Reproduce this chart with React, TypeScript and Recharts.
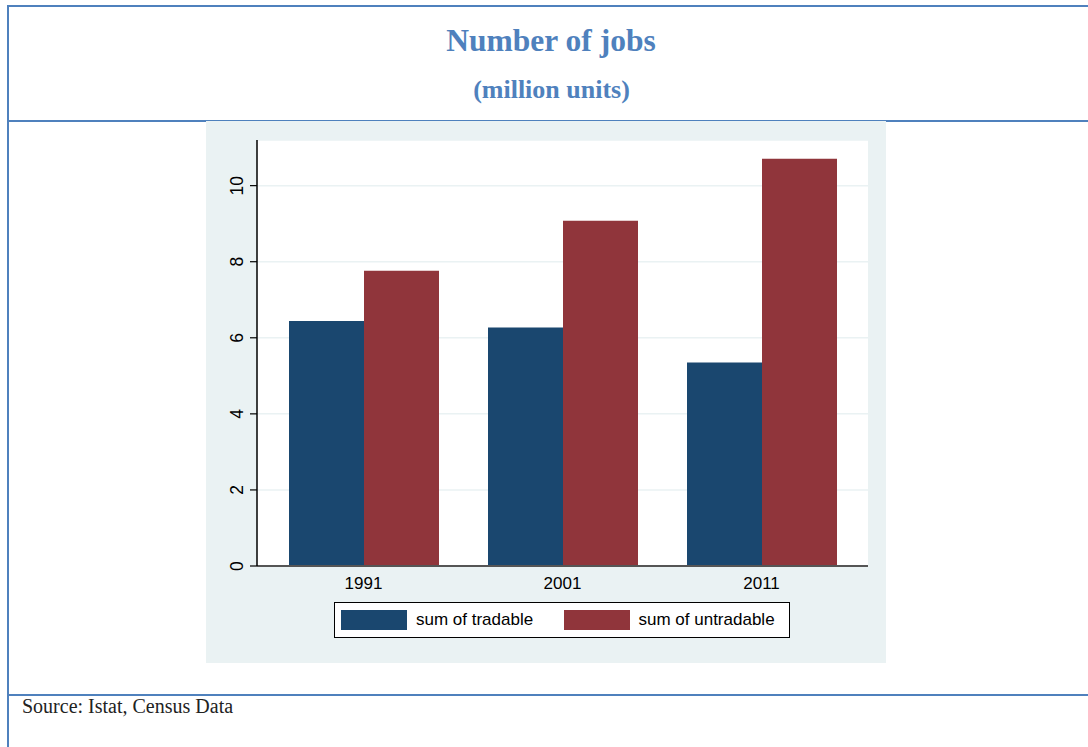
import React from 'react';
import { BarChart, Bar, XAxis, YAxis, CartesianGrid, Legend } from 'recharts';

const years = ['1991', '2001', '2011'];
const tradable = [6.44, 6.27, 5.35];
const untradable = [7.76, 9.08, 10.71];
const yTicks = [0, 2, 4, 6, 8, 10];

const data = years.map((y, i) => ({ year: y, tradable: tradable[i], untradable: untradable[i] }));

const FRAME = '#4F81BD';
const SANS = '"Liberation Sans", Arial, Helvetica, sans-serif';
const SERIF = '"Liberation Serif", "Times New Roman", serif';

const YTick = (props: any) => {
  const { x, y, payload } = props;
  return (
    <text
      x={x}
      y={y}
      transform={`rotate(-90 ${x} ${y})`}
      textAnchor="middle"
      fontSize={17.5}
      fontFamily={SANS}
      fill="#000"
    >
      {payload.value}
    </text>
  );
};

const LegendContent = (props: any) => {
  const payload = props.payload || [];
  return (
    <div
      style={{
        marginLeft: 128,
        width: 456,
        height: 36,
        boxSizing: 'border-box',
        border: '1px solid #000',
        background: '#fff',
        position: 'relative',
        fontFamily: SANS,
        fontSize: 17,
        color: '#000',
      }}
    >
      {payload.map((p: any, i: number) => (
        <div
          key={i}
          style={{
            position: 'absolute',
            left: i === 0 ? 6 : 228.5,
            top: 7,
            display: 'flex',
            alignItems: 'center',
            height: 20,
          }}
        >
          <div style={{ width: 66, height: 20, background: p.color }} />
          <span style={{ marginLeft: 9, lineHeight: '20px', whiteSpace: 'nowrap' }}>{p.value}</span>
        </div>
      ))}
    </div>
  );
};

export default function App() {
  return (
    <div style={{ position: 'absolute', left: 0, top: 0, width: 1088, height: 747, overflow: 'hidden', background: '#fff' }}>
      {/* frame lines */}
      <div style={{ position: 'absolute', left: 7, top: 5, width: 1081, height: 2, background: FRAME }} />
      <div style={{ position: 'absolute', left: 7, top: 5, width: 2, height: 742, background: FRAME }} />
      <div style={{ position: 'absolute', left: 7, top: 119.5, width: 1081, height: 2, background: FRAME }} />
      <div style={{ position: 'absolute', left: 7, top: 694, width: 1081, height: 2, background: FRAME }} />

      {/* titles */}
      <div
        style={{
          position: 'absolute', left: 0, top: 24.5, width: 1102, textAlign: 'center',
          fontFamily: SERIF, fontWeight: 'bold', fontSize: 31.5, lineHeight: '31.5px', color: FRAME,
        }}
      >
        Number of jobs
      </div>
      <div
        style={{
          position: 'absolute', left: 0, top: 76.5, width: 1103, textAlign: 'center',
          fontFamily: SERIF, fontWeight: 'bold', fontSize: 26, lineHeight: '26px', color: FRAME,
        }}
      >
        (million units)
      </div>

      {/* chart */}
      <div style={{ position: 'absolute', left: 206, top: 121, width: 680, height: 542 }}>
        <BarChart
          width={680}
          height={542}
          data={data}
          margin={{ top: 19, right: 18, left: 0, bottom: 25 }}
          barGap={0}
          barSize={75}
          style={{ background: '#EAF2F3' }}
        >
          <CartesianGrid vertical={false} stroke="#EAF2F3" strokeWidth={1.5} fill="#fff" fillOpacity={1} />
          <Bar dataKey="tradable" name="sum of tradable" fill="#1A476F" isAnimationActive={false} />
          <Bar dataKey="untradable" name="sum of untradable" fill="#90353B" isAnimationActive={false} />
          <XAxis
            dataKey="year"
            height={36}
            padding={{ left: 7, right: 7 }}
            tickLine={false}
            axisLine={{ stroke: '#555', strokeWidth: 2 }}
            tickSize={6}
            tickMargin={5}
            tick={{ fontSize: 17, fontFamily: SANS, fill: '#000' }}
          />
          <YAxis
            width={51}
            domain={[0, 11.2]}
            ticks={yTicks}
            allowDataOverflow
            axisLine={{ stroke: '#000', strokeWidth: 1.5 }}
            tickLine={{ stroke: '#000', strokeWidth: 1.2 }}
            tickSize={7}
            tickMargin={7}
            tick={<YTick />}
          />
          <Legend verticalAlign="bottom" content={<LegendContent />} />
        </BarChart>
      </div>

      {/* source */}
      <div
        style={{
          position: 'absolute', left: 22, top: 695.5, fontFamily: SERIF, fontSize: 20,
          lineHeight: '20px', color: '#222', whiteSpace: 'nowrap',
        }}
      >
        Source: Istat, Census Data
      </div>
    </div>
  );
}
